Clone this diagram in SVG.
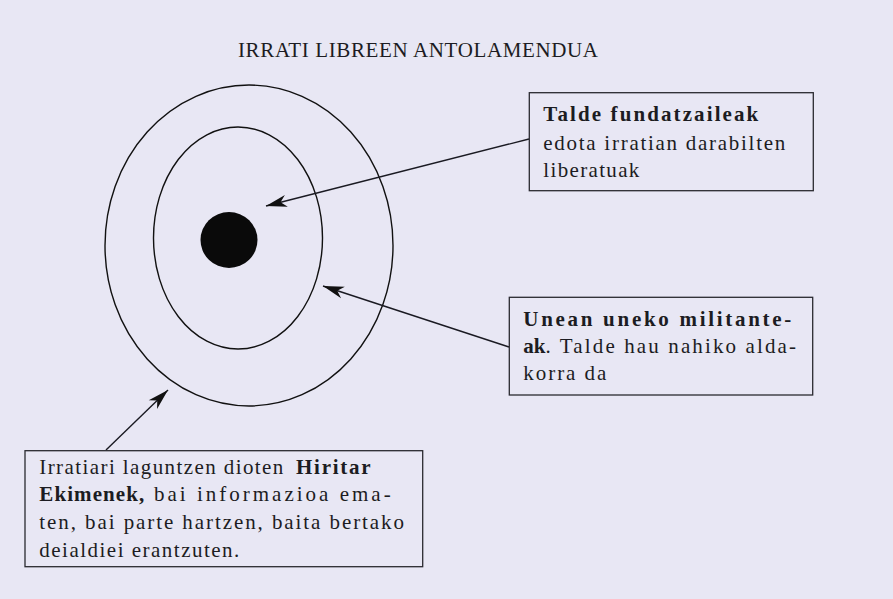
<svg xmlns="http://www.w3.org/2000/svg" width="893" height="599" viewBox="0 0 893 599">
<style>
.bg{fill:#e8e7f4}
.t{font-family:"Liberation Serif","Times New Roman",serif;font-size:21px;fill:#1c1c22}
.b{font-weight:bold}
.box{fill:none;stroke:#2a2a30;stroke-width:1.3}
.ring{fill:none;stroke:#111;stroke-width:1.4}
.conn{fill:none;stroke:#1a1a22;stroke-width:1.4;marker-end:url(#ah)}
</style>
<defs>
<marker id="ah" markerUnits="userSpaceOnUse" markerWidth="26" markerHeight="14" viewBox="-22 -7 24 14" refX="0" refY="0" orient="auto">
<path d="M0,0 L-21,-6 L-15,0 L-21,6 Z" fill="#111"/>
</marker>
</defs>
<rect class="bg" x="0" y="0" width="893" height="599"/>
<text class="t" x="238" y="57" font-size="18" textLength="360" lengthAdjust="spacing">IRRATI LIBREEN ANTOLAMENDUA</text>
<g id="rings">
<ellipse class="ring" cx="249" cy="245.5" rx="144" ry="160.5"/>
<ellipse class="ring" cx="238" cy="238" rx="84.5" ry="111"/>
<ellipse cx="229" cy="240" rx="28.5" ry="28" fill="#0a0a0a"/>
</g>
<g id="connectors">
<line class="conn" x1="529" y1="139" x2="266" y2="206"/>
<line class="conn" x1="509" y1="347" x2="323" y2="286"/>
<line class="conn" x1="106" y1="450" x2="168" y2="390"/>
</g>
<g id="box-talde">
<rect class="box" x="529.3" y="92.7" width="284" height="98"/>
<text class="t b" x="543.3" y="121" textLength="215" lengthAdjust="spacing">Talde fundatzaileak</text>
<text class="t" x="543.3" y="150" textLength="242" lengthAdjust="spacing">edota irratian darabilten</text>
<text class="t" x="543.3" y="177" textLength="96" lengthAdjust="spacing">liberatuak</text>
</g>
<g id="box-unean">
<rect class="box" x="509.3" y="297.3" width="303.4" height="97.7"/>
<text class="t b" x="523.3" y="326" textLength="268" lengthAdjust="spacing">Unean uneko militante-</text>
<text class="t b" x="523.3" y="353">ak</text>
<text class="t" x="545.5" y="353" textLength="250.5" lengthAdjust="spacing">. Talde hau nahiko alda-</text>
<text class="t" x="523.3" y="380" textLength="83" lengthAdjust="spacing">korra da</text>
</g>
<g id="box-hiritar">
<rect class="box" x="25" y="450.7" width="397.7" height="116"/>
<text class="t" x="39.3" y="473.5" textLength="244" lengthAdjust="spacing">Irratiari laguntzen dioten</text>
<text class="t b" x="296" y="473.5" textLength="74.7" lengthAdjust="spacing">Hiritar</text>
<text class="t b" x="39.3" y="501" textLength="105" lengthAdjust="spacing">Ekimenek,</text>
<text class="t" x="154" y="501" textLength="236.7" lengthAdjust="spacing">bai informazioa ema-</text>
<text class="t" x="39.3" y="529.3" textLength="364.7" lengthAdjust="spacing">ten, bai parte hartzen, baita bertako</text>
<text class="t" x="39.3" y="556.7" textLength="200" lengthAdjust="spacing">deialdiei erantzuten.</text>
</g>
</svg>
